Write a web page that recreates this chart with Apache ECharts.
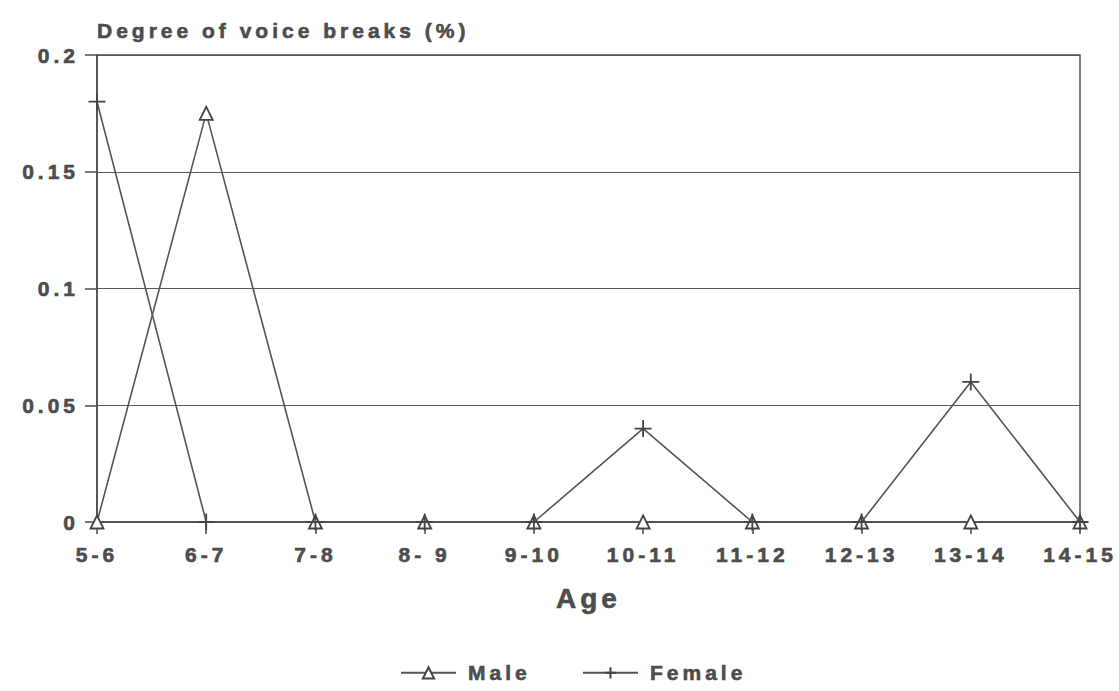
<!DOCTYPE html>
<html><head><meta charset="utf-8">
<script src="https://cdn.jsdelivr.net/npm/echarts@6/dist/echarts.min.js"></script>
<style>
html,body{margin:0;padding:0;background:#fff}
#c{width:1119px;height:691px}
#c svg text{letter-spacing:4px}
</style>
</head><body><div id="c"></div>
<script>
const categories = ['5-6','6-7','7-8','8- 9','9-10','10-11','11-12','12-13','13-14','14-15'];
const male = [0, 0.175, 0, 0, 0, 0, 0, 0, 0, 0];
const female = [0.18, 0, 0, 0, 0, 0.04, 0, 0, 0.06, 0];
const yTicks = [0, 0.05, 0.1, 0.15, 0.2];

const ink = '#4d4d4d';
const font = 'Liberation Sans, Arial, sans-serif';
const plus = 'path://M0,-10L0,10M-10,0L10,0';
const txt = (size) => ({fontFamily: font, fontSize: size, fontWeight: 'bold', color: ink,
                        textBorderColor: ink, textBorderWidth: 0.6});

const chart = echarts.init(document.getElementById('c'), null, {renderer: 'svg'});
chart.setOption({
  animation: false,
  backgroundColor: '#fff',
  grid: {left: 97, right: 39, top: 55, bottom: 169, containLabel: false, outerBoundsMode: 'none',
         show: true, borderColor: ink, borderWidth: 1.5, backgroundColor: 'transparent'},
  xAxis: {
    type: 'category', data: categories, boundaryGap: false,
    name: 'Age', nameLocation: 'middle', nameGap: 62,
    nameTextStyle: txt(28),
    axisLine: {lineStyle: {color: ink, width: 1.5}},
    axisTick: {show: true, length: 12, lineStyle: {color: ink, width: 1.5}},
    axisLabel: Object.assign(txt(21), {margin: 22}),
    splitLine: {show: false}
  },
  yAxis: {
    type: 'value', min: 0, max: 0.2, interval: 0.05,
    name: 'Degree of voice breaks (%)', nameLocation: 'end', nameGap: 14,
    nameTextStyle: Object.assign(txt(21), {align: 'left'}),
    axisLine: {show: true, lineStyle: {color: ink, width: 1.5}},
    axisTick: {show: true, inside: false, length: 12, lineStyle: {color: ink, width: 1.5}},
    axisLabel: Object.assign(txt(21), {margin: 18,
      formatter: v => { const t = yTicks.find(x => Math.abs(x - v) < 1e-9); return t === undefined ? '' : String(t); }}),
    splitLine: {show: true, lineStyle: {color: '#5a5a5a', width: 1.2}}
  },
  legend: {
    left: 400, top: 662, padding: 0, itemGap: 67, itemWidth: 55, itemHeight: 14,
    textStyle: Object.assign(txt(21), {padding: [0, 0, 0, 7]}),
    data: ['Male', 'Female']
  },
  series: [
    {name: 'Male', type: 'line', data: male, symbol: 'triangle', symbolSize: 13,
     lineStyle: {color: '#555', width: 1.6},
     itemStyle: {color: '#fff', borderColor: '#444', borderWidth: 1.8}, z: 2},
    {name: 'Female', type: 'line', data: female, symbol: plus, symbolSize: 17,
     lineStyle: {color: '#555', width: 1.6},
     itemStyle: {color: 'none', borderColor: '#444', borderWidth: 1.8}, z: 3}
  ]
});
</script></body></html>
